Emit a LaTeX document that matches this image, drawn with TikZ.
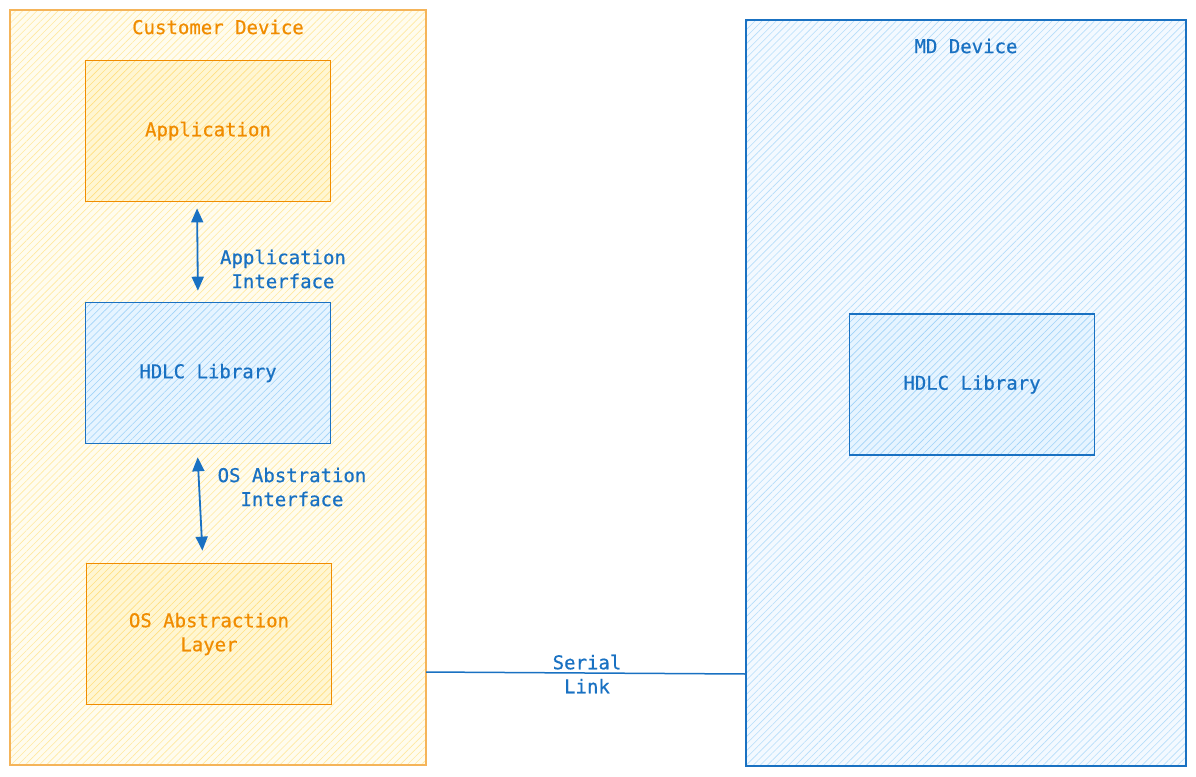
\documentclass[tikz,border=0pt]{standalone}
\usepackage{fontspec}
\usepackage{tikz}
\usetikzlibrary{arrows.meta,patterns.meta}
\newfontfamily\monofnt[FakeBold=0.6]{DejaVu Sans Mono}
\definecolor{orng}{HTML}{F08C00}
\definecolor{yelbg}{HTML}{FFFCEE}
\definecolor{yelln}{HTML}{FFE9A0}
\definecolor{yelinbg}{HTML}{FFF6D2}
\definecolor{yelinln}{HTML}{FFDF80}
\definecolor{blu}{HTML}{1971C2}
\definecolor{blubg}{HTML}{F3F9FF}
\definecolor{bluln}{HTML}{B5DDFA}
\definecolor{bluinbg}{HTML}{E6F4FF}
\definecolor{bluinln}{HTML}{A0D2F8}

\begin{document}
\begin{tikzpicture}[x=1pt,y=-1pt,
        font=\monofnt\fontsize{19}{24}\selectfont,
        every node/.style={align=center,inner sep=0pt},
        hatch/.style={preaction={fill=#1bg},pattern={Lines[angle=45,distance=5pt,line width=0.6pt]},pattern color=#1ln},
        devbox/.style={draw,line width=1.1pt},
        ybox/.style={draw=orng,line width=1.8pt,hatch=yelin,text=orng,minimum width=245pt,minimum height=141pt},
        bbox/.style={draw=blu,line width=1.6pt,hatch=bluin,text=blu,minimum width=245pt,minimum height=141pt},
        arr/.style={draw=blu,line width=1.8pt,{Triangle[length=14pt,width=12pt]}-{Triangle[length=14pt,width=12pt]}}]
    \useasboundingbox (0,0) rectangle (1196,776);

    % customer side
    \node[devbox,draw=orng!65,hatch=yel,minimum width=416pt,minimum height=755pt] (cust) at (218,387.5) {};
    \node[text=orng] (custlbl) at (218,27) {Customer Device};
    \node[ybox] (app) at (208,131) {Application};
    \node[bbox] (hdlca) at (208,373) {HDLC Library};
    \node[ybox] (osl) at (209,634) {OS Abstraction\\Layer};

    % md side
    \node[devbox,draw=blu,hatch=blu,minimum width=440pt,minimum height=746pt] (md) at (966,393) {};
    \node[text=blu] (mdlbl) at (966,46) {MD Device};
    \node[bbox] (hdlcb) at (972,384.5) {HDLC Library};

    % interfaces
    \draw[arr,shorten <=6pt,shorten >=11pt] ([xshift=-11pt]app.south) -- ([xshift=-10pt]hdlca.north);
    \node[text=blu] (apitxt) at (283,269) {Application\\Interface};
    \draw[arr,shorten <=13pt,shorten >=12pt] ([xshift=-11pt]hdlca.south) -- ([xshift=-6pt]osl.north);
    \node[text=blu] (ositxt) at (292,487) {OS Abstration\\Interface};

    % serial link
    \coordinate (sl1) at (426,672);
    \coordinate (sl2) at (746,674);
    \draw[blu,line width=1.5pt] (sl1) -- (sl2);
    \node[text=blu] (sltxt) at (587,674) {Serial\\Link};
\end{tikzpicture}
\end{document}
